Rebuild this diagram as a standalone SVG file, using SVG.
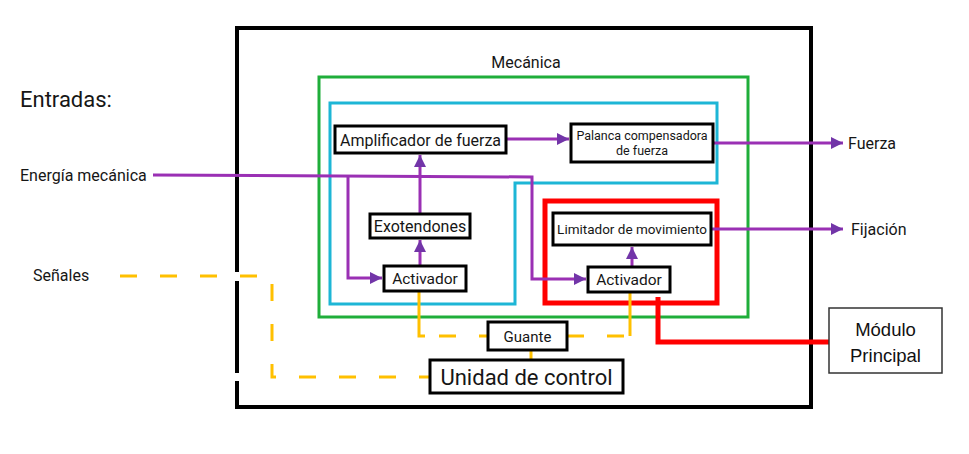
<svg xmlns="http://www.w3.org/2000/svg" width="969" height="454" viewBox="0 0 969 454">
<defs>
<style>
.t{font-family:Roboto,"Liberation Sans",sans-serif;fill:#161616}
.box{fill:#fff;stroke:#000;stroke-width:3}
.pl{fill:none;stroke:#9a30b4;stroke-width:3}
.yl{fill:none;stroke:#ffc000;stroke-width:3}
.yd{fill:none;stroke:#ffc000;stroke-width:3;stroke-dasharray:17 23}
</style>
<marker id="ah" viewBox="0 0 10 10" refX="10" refY="5" markerWidth="4" markerHeight="4" markerUnits="strokeWidth" orient="auto">
<path d="M0,0 L10,5 L0,10 Z" fill="#7235a8"/>
</marker>
</defs>
<rect width="969" height="454" fill="#fff"/>

<g id="marco">
<rect x="237" y="28" width="574" height="379" fill="none" stroke="#000" stroke-width="4"/>
<rect x="233" y="272" width="8" height="9" fill="#fff"/>
<rect x="233" y="373" width="8" height="8" fill="#fff"/>
</g>

<g id="mecanica">
<rect x="319" y="77" width="429" height="240" fill="none" stroke="#1fae3a" stroke-width="3"/>
<text class="t" x="526" y="68" font-size="16" text-anchor="middle">Mecánica</text>
</g>

<g id="cian">
<path d="M330,103 H717 V183 H515 V304 H330 Z" fill="none" stroke="#1db6d6" stroke-width="3"/>
</g>

<g id="modulo-rojo">
<rect x="545" y="201" width="172" height="102" fill="none" stroke="#ff0000" stroke-width="5"/>
</g>

<g id="etiquetas">
<text class="t" x="20" y="107" font-size="22">Entradas:</text>
<text class="t" x="20" y="181" font-size="16">Energía mecánica</text>
<text class="t" x="33" y="281" font-size="16">Señales</text>
<text class="t" x="848" y="149" font-size="16">Fuerza</text>
<text class="t" x="851" y="235" font-size="16">Fijación</text>
</g>

<g id="connectors">
<path class="pl" d="M153,175 L532,177 V279 H586" marker-end="url(#ah)"/>
<path class="pl" d="M348,175 V278 H382" marker-end="url(#ah)"/>
<path class="pl" d="M420,266 V240" marker-end="url(#ah)"/>
<path class="pl" d="M420,214 V155" marker-end="url(#ah)"/>
<path class="pl" d="M506,139 H569" marker-end="url(#ah)"/>
<path class="pl" d="M713,143 H843" marker-end="url(#ah)"/>
<path class="pl" d="M632,267 V247" marker-end="url(#ah)"/>
<path class="pl" d="M711,229 H843" marker-end="url(#ah)"/>
<path class="yl" d="M419,291 V336 H425"/>
<path class="yd" d="M439,336 H488"/>
<path class="yd" d="M567,336 H630"/>
<path class="yl" d="M630,336 V292"/>
<path class="yl" d="M531,350 V360"/>
<path class="yd" d="M120,276 H272 V377 H430"/>
<path d="M658,297 V342 H829" fill="none" stroke="#ff0000" stroke-width="5"/>
</g>

<g id="amplificador">
<rect class="box" x="335" y="126" width="171" height="27"/>
<text class="t" x="420.5" y="145.5" font-size="16" text-anchor="middle">Amplificador de fuerza</text>
</g>
<g id="palanca">
<rect class="box" x="571" y="124" width="142" height="38"/>
<text class="t" x="642" y="140" font-size="12.5" text-anchor="middle">Palanca compensadora</text>
<text class="t" x="642" y="155" font-size="12.5" text-anchor="middle">de fuerza</text>
</g>
<g id="exotendones">
<rect class="box" x="370" y="214" width="100" height="24"/>
<text class="t" x="420" y="231.5" font-size="16" text-anchor="middle">Exotendones</text>
</g>
<g id="activador1">
<rect class="box" x="384" y="266" width="82" height="25"/>
<text class="t" x="425" y="284" font-size="15.5" text-anchor="middle">Activador</text>
</g>
<g id="limitador">
<rect class="box" x="553" y="213" width="158" height="32"/>
<text class="t" x="632" y="233.5" font-size="13.5" text-anchor="middle">Limitador de movimiento</text>
</g>
<g id="activador2">
<rect class="box" x="588" y="267" width="82" height="25"/>
<text class="t" x="629" y="285" font-size="15.5" text-anchor="middle">Activador</text>
</g>
<g id="guante">
<rect class="box" x="488" y="322" width="79" height="28"/>
<text class="t" x="527.5" y="341.5" font-size="15" text-anchor="middle">Guante</text>
</g>
<g id="unidad">
<rect class="box" x="430" y="360" width="193" height="33"/>
<text class="t" x="526.5" y="384.5" font-size="22" text-anchor="middle">Unidad de control</text>
</g>
<g id="modulo-principal">
<rect x="829" y="308" width="113" height="65" fill="#fff" stroke="#333" stroke-width="1.5"/>
<text x="885.5" y="336" font-size="18.5" text-anchor="middle" font-family="'Liberation Sans',Arial,sans-serif" fill="#111">Módulo</text>
<text x="885.5" y="362" font-size="18.5" text-anchor="middle" font-family="'Liberation Sans',Arial,sans-serif" fill="#111">Principal</text>
</g>
</svg>
